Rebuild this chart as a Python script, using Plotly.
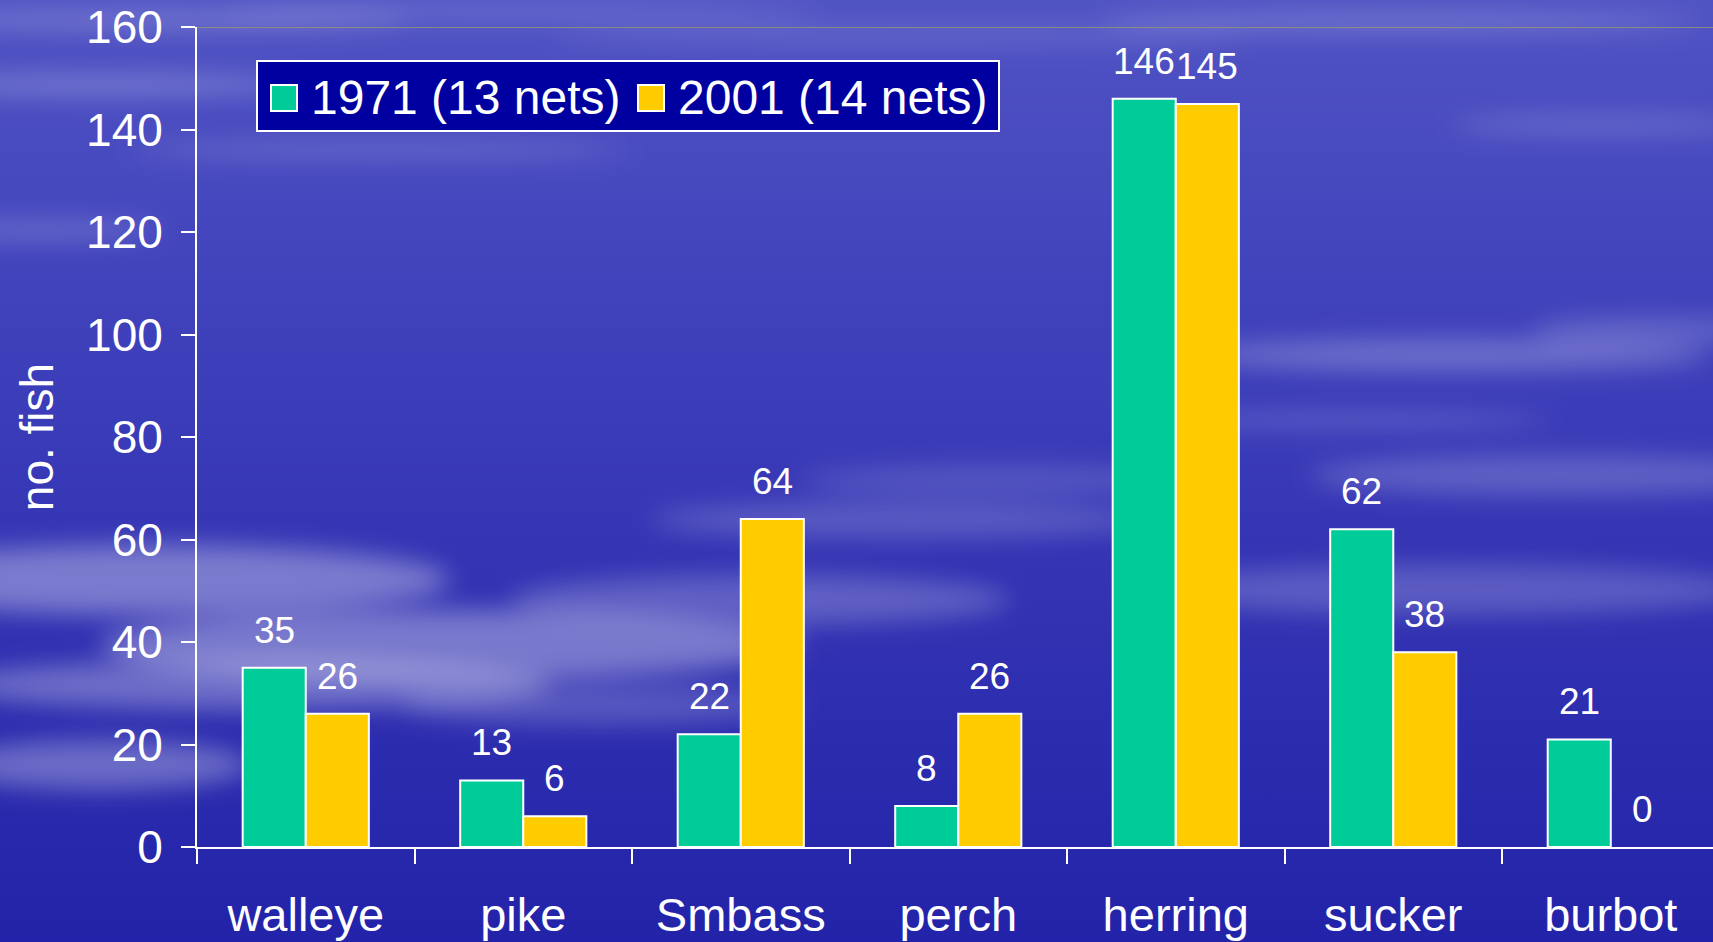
import base64
import plotly.graph_objects as go

categories = ["walleye", "pike", "Smbass", "perch", "herring", "sucker", "burbot"]
series_names = ["1971 (13 nets)", "2001 (14 nets)"]
catch_1971 = [35, 13, 22, 8, 146, 62, 21]
catch_2001 = [26, 6, 64, 26, 145, 38, 0]

COLORS = ["#00CC99", "#FFCC00"]
FONT = "Arial, 'Liberation Sans', sans-serif"

W, H = 1713, 942
L, T, B = 197, 27, 95
PLOT_W = W - L
PLOT_H = H - T - B


def xp(px):
    return (px - L) / PLOT_W


def yp(py):
    return (H - B - py) / PLOT_H


# sky background: gradient with soft cloud streaks
clouds = [
    (150, 20, 260, 8, 0.25), (520, 12, 300, 6, 0.2), (100, 85, 200, 10, 0.25),
    (380, 150, 250, 8, 0.18), (40, 230, 120, 10, 0.2), (900, 35, 350, 8, 0.15),
    (1400, 22, 300, 10, 0.2), (1600, 125, 150, 8, 0.2),
    (1450, 355, 260, 16, 0.25), (1350, 420, 200, 10, 0.15), (1560, 475, 250, 20, 0.2),
    (1450, 590, 300, 25, 0.2), (1650, 330, 120, 12, 0.2),
    (150, 580, 300, 35, 0.35), (450, 645, 350, 35, 0.35), (250, 685, 300, 25, 0.3),
    (760, 600, 250, 25, 0.22), (900, 520, 250, 18, 0.18), (100, 765, 150, 25, 0.3),
    (600, 705, 200, 20, 0.2), (1000, 480, 200, 15, 0.15),
]
ell = "".join(
    f'<ellipse cx="{cx}" cy="{cy}" rx="{rx}" ry="{ry}" fill-opacity="{op}"/>'
    for cx, cy, rx, ry, op in clouds
)
svg = f'''<svg xmlns="http://www.w3.org/2000/svg" width="{W}" height="{H}" viewBox="0 0 {W} {H}">
<defs>
<linearGradient id="g" x1="0" y1="0" x2="0" y2="1">
<stop offset="0" stop-color="#5053c3"/>
<stop offset="0.3" stop-color="#4143bc"/>
<stop offset="0.6" stop-color="#3434b4"/>
<stop offset="1" stop-color="#2323a9"/>
</linearGradient>
<filter id="b" x="-50%" y="-50%" width="200%" height="200%"><feGaussianBlur stdDeviation="12"/></filter>
</defs>
<rect width="{W}" height="{H}" fill="url(#g)"/>
<g filter="url(#b)" fill="#ffffff">{ell}</g>
</svg>'''
bg_src = "data:image/svg+xml;base64," + base64.b64encode(svg.encode()).decode()

fig = go.Figure()
for name, vals, color in zip(series_names, [catch_1971, catch_2001], COLORS):
    fig.add_bar(
        x=categories, y=vals, name=name,
        marker=dict(color=color,
                    line=dict(color="white", width=[2 if v > 0 else 0 for v in vals])),
        showlegend=False,
    )

# value labels above bars
annotations = []
for k, vals in enumerate([catch_1971, catch_2001]):
    shift = -31.5 if k == 0 else 31.5
    for cat, v in zip(categories, vals):
        annotations.append(dict(
            x=cat, y=v, text=str(v), showarrow=False,
            xshift=shift, yshift=15, yanchor="bottom",
            font=dict(size=37, color="white", family=FONT),
        ))

# hand-made legend (big square markers)
shapes = [
    dict(type="rect", xref="paper", yref="paper",
         x0=xp(257), x1=xp(999), y0=yp(131), y1=yp(61),
         fillcolor="#0000A0", line=dict(color="white", width=2), layer="above"),
    dict(type="line", xref="paper", yref="y", x0=0, x1=1, y0=160, y1=160,
         line=dict(color="#8f8a80", width=2)),
]
for x0, color in zip([271, 638], COLORS):
    shapes.append(dict(type="rect", xref="paper", yref="paper",
                       x0=xp(x0), x1=xp(x0 + 26), y0=yp(111), y1=yp(85),
                       fillcolor=color, line=dict(color="white", width=2), layer="above"))
for x0, name in zip([309, 676], series_names):
    annotations.append(dict(
        xref="paper", yref="paper", x=xp(x0), y=yp(97.5), text=name,
        showarrow=False, xanchor="left", yanchor="middle",
        font=dict(size=48, color="white", family=FONT),
    ))

fig.update_layout(
    width=W, height=H,
    margin=dict(l=L, r=0, t=T, b=B),
    paper_bgcolor="#3636b5",
    plot_bgcolor="rgba(0,0,0,0)",
    font=dict(family=FONT, color="white", size=46),
    barmode="group", bargap=0.42, bargroupgap=0,
    shapes=shapes,
    annotations=annotations,
    images=[dict(source=bg_src, xref="paper", yref="paper",
                 x=xp(0), y=yp(0), sizex=W / PLOT_W, sizey=H / PLOT_H,
                 xanchor="left", yanchor="top", sizing="stretch", layer="below")],
)
fig.update_xaxes(
    range=[-0.5, 6.47], tickson="boundaries", ticks="outside", ticklen=15,
    tickwidth=2, tickcolor="white", showline=True, linecolor="white", linewidth=2,
    showgrid=False, ticklabelstandoff=26, tickfont=dict(size=47), automargin=False,
)
fig.update_yaxes(
    range=[0, 160], dtick=20, ticks="outside", ticklen=14, tickwidth=2,
    tickcolor="white", showline=True, linecolor="white", linewidth=2,
    showgrid=False, zeroline=False, ticklabelstandoff=9, tickfont=dict(size=46),
    title=dict(text="no. fish", font=dict(size=46), standoff=18), automargin=False,
)

fig.write_html("out.html", config={"displayModeBar": False},
               post_script="document.body.style.margin='0';document.body.style.overflow='hidden';")
